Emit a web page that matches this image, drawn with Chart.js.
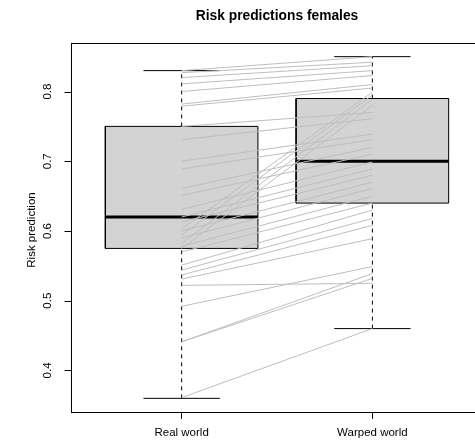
<!DOCTYPE html>
<html>
<head>
<meta charset="utf-8">
<script src="https://cdn.jsdelivr.net/npm/chart.js@4/dist/chart.umd.min.js"></script>
<style>
    html, body { margin: 0; padding: 0; background: #fff; overflow: hidden; }
    canvas { display: block; }
</style>
</head>
<body>
<canvas id="riskChart" width="500" height="446"></canvas>
<script>
// values
const categories = ['Real world', 'Warped world'];
const yTicks = [0.4, 0.5, 0.6, 0.7, 0.8];

const whiskerLow = [0.36, 0.46];
const q1 = [0.575, 0.64];
const median = [0.62, 0.70];
const q3 = [0.75, 0.79];
const whiskerHigh = [0.83, 0.85];

// one entry per person: prediction in the real world and in the warped world
const realWorld = [0.830, 0.827, 0.820, 0.811, 0.800, 0.782, 0.779, 0.750, 0.731, 0.700, 0.689,
    0.661, 0.651, 0.631, 0.620, 0.613, 0.603, 0.600, 0.594, 0.590, 0.582, 0.578, 0.575, 0.570,
    0.551, 0.544, 0.537, 0.531, 0.522, 0.492, 0.441, 0.441, 0.361];
const warpedWorld = [0.850, 0.842, 0.837, 0.830, 0.823, 0.810, 0.805, 0.770, 0.761, 0.739, 0.731,
    0.720, 0.710, 0.699, 0.689, 0.680, 0.799, 0.670, 0.795, 0.661, 0.789, 0.650, 0.780, 0.640,
    0.630, 0.618, 0.608, 0.589, 0.525, 0.549, 0.539, 0.532, 0.460];

const FONT = '"Liberation Sans", Arial, Helvetica, sans-serif';
const BOX_HALF = 0.4;
const CAP_HALF = 0.2;

function seg(points, extra) {
    return Object.assign({
        type: 'scatter',
        data: points,
        showLine: true,
        pointRadius: 0,
        borderColor: '#000',
        borderWidth: 1,
        fill: false
    }, extra);
}

const datasets = [];

// paired lines on top of everything
realWorld.forEach((r, i) => {
    datasets.push(seg([{ x: 1, y: r }, { x: 2, y: warpedWorld[i] }], { borderColor: '#bebebe', order: 0 }));
});

categories.forEach((c, i) => {
    const x = i + 1;
    // box
    datasets.push(seg([
        { x: x - BOX_HALF, y: q1[i] }, { x: x + BOX_HALF, y: q1[i] },
        { x: x + BOX_HALF, y: q3[i] }, { x: x - BOX_HALF, y: q3[i] },
        { x: x - BOX_HALF, y: q1[i] }
    ], { fill: 'shape', backgroundColor: '#d3d3d3', order: 3 }));
    // median
    datasets.push(seg([{ x: x - BOX_HALF, y: median[i] }, { x: x + BOX_HALF, y: median[i] }], { borderWidth: 3, order: 1 }));
    // whiskers
    datasets.push(seg([{ x: x, y: q3[i] }, { x: x, y: whiskerHigh[i] }], { borderDash: [4, 4], order: 2 }));
    datasets.push(seg([{ x: x, y: whiskerLow[i] }, { x: x, y: q1[i] }], { borderDash: [4, 4], order: 2 }));
    // caps
    datasets.push(seg([{ x: x - CAP_HALF, y: whiskerHigh[i] }, { x: x + CAP_HALF, y: whiskerHigh[i] }], { order: 2 }));
    datasets.push(seg([{ x: x - CAP_HALF, y: whiskerLow[i] }, { x: x + CAP_HALF, y: whiskerLow[i] }], { order: 2 }));
});

// frame, title, y ticks and labels
const decorations = {
    id: 'decorations',
    afterDraw(chart) {
        const ctx = chart.ctx;
        const a = chart.chartArea;
        const yScale = chart.scales.y;
        ctx.save();
        ctx.strokeStyle = '#000';
        ctx.lineWidth = 1;
        ctx.strokeRect(a.left + 0.5, a.top + 0.5, a.right - a.left, a.bottom - a.top);

        ctx.beginPath();
        yTicks.forEach(v => {
            const py = Math.round(yScale.getPixelForValue(v)) + 0.5;
            ctx.moveTo(a.left + 0.5, py);
            ctx.lineTo(a.left - 6.5, py);
        });
        ctx.stroke();

        ctx.fillStyle = '#000';
        ctx.textAlign = 'center';
        ctx.font = 'bold 13.8px ' + FONT;
        ctx.textBaseline = 'alphabetic';
        ctx.fillText('Risk predictions females', (a.left + a.right) / 2, 19.5);

        ctx.font = '11.5px ' + FONT;
        ctx.textBaseline = 'middle';
        yTicks.forEach(v => {
            ctx.save();
            ctx.translate(48, yScale.getPixelForValue(v));
            ctx.rotate(-Math.PI / 2);
            ctx.fillText(v.toFixed(1), 0, 0);
            ctx.restore();
        });

        ctx.translate(32, 230);
        ctx.rotate(-Math.PI / 2);
        ctx.fillText('Risk prediction', 0, 0);
        ctx.restore();
    }
};

new Chart(document.getElementById('riskChart'), {
    type: 'scatter',
    data: { datasets: datasets },
    options: {
        responsive: false,
        animation: false,
        events: [],
        layout: { padding: { top: 43, left: 0, right: 17, bottom: 0 } },
        plugins: {
            legend: { display: false },
            tooltip: { enabled: false }
        },
        scales: {
            x: {
                type: 'linear',
                min: 0.42,
                max: 2.58,
                afterBuildTicks: scale => { scale.ticks = categories.map((c, i) => ({ value: i + 1 })); },
                afterFit: scale => { scale.height = 34; },
                border: { display: false },
                grid: { drawOnChartArea: false, color: '#000', tickLength: 7 },
                ticks: {
                    color: '#000',
                    font: { family: FONT, size: 11.5 },
                    padding: 7,
                    maxRotation: 0,
                    autoSkip: false,
                    callback: (value, index) => categories[index]
                }
            },
            y: {
                type: 'linear',
                min: 0.3404,
                max: 0.8696,
                afterBuildTicks: scale => { scale.ticks = yTicks.map(v => ({ value: v })); },
                afterFit: scale => { scale.width = 71; },
                border: { display: false },
                grid: { display: false },
                ticks: { display: false }
            }
        }
    },
    plugins: [decorations]
});
</script>
</body>
</html>
